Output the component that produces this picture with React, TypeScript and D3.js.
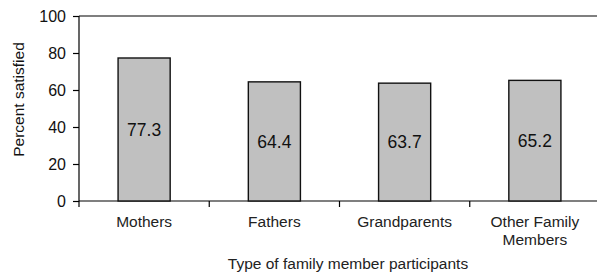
import React, { useEffect, useRef } from 'react';
import * as d3 from 'd3';

const categories = ['Mothers', 'Fathers', 'Grandparents', 'Other Family Members'];
const satisfied = [77.3, 64.4, 63.7, 65.2];
const yTicks = [0, 20, 40, 60, 80, 100];

const W = 597;
const H = 276;
const FONT = '"Liberation Sans", Arial, sans-serif';

const App = () => {
    const svgRef = useRef<SVGSVGElement>(null);

    useEffect(() => {
        const svg = d3.select(svgRef.current);
        svg.selectAll('*').remove();

        const left = 79;
        const right = 600;
        const top = 16;
        const bottom = 201;

        const x = d3.scaleBand<string>()
            .domain(categories)
            .range([left, right])
            .paddingInner(0.6)
            .paddingOuter(0.3);

        const step = x.step();

        const y = d3.scaleLinear().domain([0, 100]).range([bottom, top]);

        // top frame line
        svg.append('line')
            .attr('x1', left).attr('x2', W)
            .attr('y1', y(100)).attr('y2', y(100))
            .attr('stroke', '#000').attr('stroke-width', 1.2);

        // y axis
        const yAxis = d3.axisLeft(y).tickValues(yTicks).tickSize(6).tickPadding(7);
        const gy = svg.append('g').attr('transform', `translate(${left},0)`).call(yAxis);
        gy.select('.domain').remove();
        gy.selectAll('.tick line').attr('stroke', '#000').attr('stroke-width', 1.2);
        gy.selectAll('.tick text')
            .attr('font-family', FONT)
            .attr('font-size', '16px')
            .attr('fill', '#111');
        svg.append('line')
            .attr('x1', left).attr('x2', left)
            .attr('y1', top).attr('y2', bottom + 6)
            .attr('stroke', '#000').attr('stroke-width', 1.2);

        // x axis line and boundary ticks
        svg.append('line')
            .attr('x1', left).attr('x2', W)
            .attr('y1', bottom).attr('y2', bottom)
            .attr('stroke', '#000').attr('stroke-width', 1.2);
        svg.selectAll('.xtick')
            .data(categories.slice(1))
            .enter().append('line')
            .attr('x1', d => (x(d) as number) - step * 0.3)
            .attr('x2', d => (x(d) as number) - step * 0.3)
            .attr('y1', bottom).attr('y2', bottom + 6)
            .attr('stroke', '#000').attr('stroke-width', 1.2);

        // bars
        svg.selectAll('.bar')
            .data(satisfied)
            .enter().append('rect')
            .attr('x', (_, i) => x(categories[i]) as number)
            .attr('y', d => y(d))
            .attr('width', x.bandwidth())
            .attr('height', d => bottom - y(d))
            .attr('fill', '#c0c0c0')
            .attr('stroke', '#111')
            .attr('stroke-width', 1.4);

        // value labels
        svg.selectAll('.val')
            .data(satisfied)
            .enter().append('text')
            .attr('x', (_, i) => (x(categories[i]) as number) + x.bandwidth() / 2)
            .attr('y', d => (y(d) + bottom) / 2)
            .attr('dy', '0.35em')
            .attr('text-anchor', 'middle')
            .attr('font-family', FONT)
            .attr('font-size', '17.5px')
            .attr('fill', '#111')
            .text(d => d.toFixed(1));

        // category labels
        const lines = (c: string) => (c === 'Other Family Members' ? ['Other Family', 'Members'] : [c]);
        categories.forEach(c => {
            const t = svg.append('text')
                .attr('text-anchor', 'middle')
                .attr('font-family', FONT)
                .attr('font-size', '15.5px')
                .attr('fill', '#222');
            lines(c).forEach((ln, j) => {
                t.append('tspan')
                    .attr('x', (x(c) as number) + x.bandwidth() / 2)
                    .attr('y', 227 + j * 18)
                    .text(ln);
            });
        });

        // axis titles
        svg.append('text')
            .attr('x', 348)
            .attr('y', 269)
            .attr('text-anchor', 'middle')
            .attr('font-family', FONT)
            .attr('font-size', '15.5px')
            .attr('fill', '#222')
            .text('Type of family member participants');

        svg.append('text')
            .attr('transform', `translate(24, 99.5) rotate(-90)`)
            .attr('text-anchor', 'middle')
            .attr('font-family', FONT)
            .attr('font-size', '15.5px')
            .attr('fill', '#111')
            .text('Percent satisfied');
    }, []);

    return (
        <svg
            ref={svgRef}
            width={W}
            height={H}
            style={{ position: 'absolute', left: 0, top: 0, background: '#fff' }}
        />
    );
};

export default App;
